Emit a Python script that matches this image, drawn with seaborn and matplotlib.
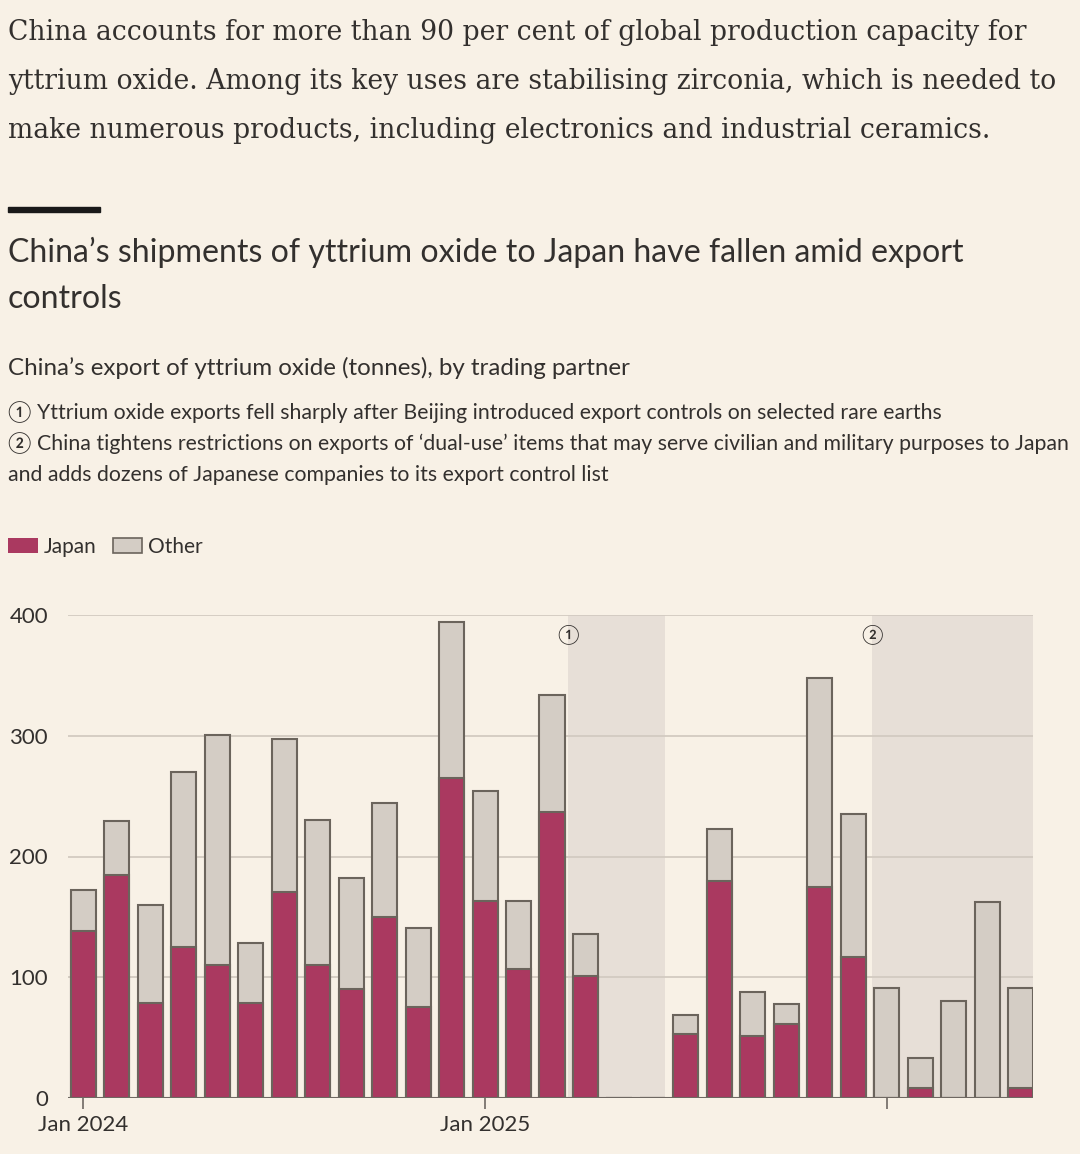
import matplotlib
matplotlib.use('Agg')
import matplotlib.pyplot as plt
import matplotlib.patches as mpatches
import seaborn as sns
import pandas as pd

# monthly data, Jan 2024 - May 2026 (tonnes)
months = pd.date_range('2024-01-01', '2026-05-01', freq='MS').strftime('%b %Y').tolist()
total = [172, 229, 160, 270, 301, 128, 297, 230, 182, 244, 141, 394,
         254, 163, 334, 136, 0, 0, 69, 223, 88, 78, 348, 235,
         91, 33, 80, 162, 91]
japan = [138, 185, 79, 125, 110, 79, 171, 110, 90, 150, 75, 265,
         163, 107, 237, 101, 0, 0, 53, 180, 51, 61, 175, 117,
         0, 8, 0, 0, 8]
tick_labels = ['Jan 2024', 'Jan 2025']
tick_months = ['Jan 2024', 'Jan 2025', 'Jan 2026']
# shaded periods (month index) and their note markers
shade_spans = [(14.48, 17.37), (23.55, 28.4)]
shade_marks = ['\u2460', '\u2461']

BG = '#f8f1e6'
JAPAN = '#aa3960'
OTHER = '#d4cdc5'
EDGE = '#6b645c'
SHADE = '#e7dfd7'
TXT = '#33302e'

sns.set_theme(style='white')
plt.rcParams['font.family'] = ['Lato', 'Noto Sans CJK SC', 'DejaVu Sans']

df = pd.DataFrame({'month': months, 'total': total, 'japan': japan})

W, H = 1080, 1154
fig = plt.figure(figsize=(W / 100, H / 100), dpi=100, facecolor=BG)
ax = fig.add_axes([68 / W, 1 - 1098 / H, (1033 - 68) / W, (1098 - 615) / H])
ax.set_facecolor(BG)

for x0, x1 in shade_spans:
    ax.axvspan(x0, x1, color=SHADE, lw=0, zorder=0)
for y in [100, 200, 300, 400]:
    ax.axhline(y, color='#d3cbc1', lw=1.3, zorder=0.5)

sns.barplot(data=df, x='month', y='total', order=months, color=OTHER,
            edgecolor=EDGE, linewidth=1.5, width=0.75, saturation=1, ax=ax, zorder=2)
sns.barplot(data=df, x='month', y='japan', order=months, color=JAPAN,
            edgecolor=EDGE, linewidth=1.5, width=0.75, saturation=1, ax=ax, zorder=3)

ax.axhline(0, color='#6e6862', lw=1.5, zorder=4)
for (x0, _), m in zip(shade_spans, shade_marks):
    ax.text(x0, 384, m, ha='center', va='center', fontsize=14, color=TXT, zorder=5)

ax.set_xlim(-0.46, 28.37)
ax.set_ylim(0, 400)
ax.set_yticks([0, 100, 200, 300, 400])
ax.set_xticks([months.index(m) for m in tick_months])
ax.set_xticklabels(tick_labels + [''])
ax.tick_params(axis='y', length=0, pad=14.4, labelsize=16, labelcolor=TXT)
ax.tick_params(axis='x', length=8, width=1.2, color='#6e6862', pad=4,
               labelsize=16, labelcolor=TXT, bottom=True)
ax.set_xlabel('')
ax.set_ylabel('')
sns.despine(ax=ax, left=True, bottom=True)


def ftext(x, y, s, **kw):
    fig.text(x / W, 1 - y / H, s, va='baseline', color=TXT, **kw)


para = ['China accounts for more than 90 per cent of global production capacity for',
        'yttrium oxide. Among its key uses are stabilising zirconia, which is needed to',
        'make numerous products, including electronics and industrial ceramics.']
for i, line in enumerate(para):
    ftext(8, 40 + 49 * i, line, fontsize=19.2, family='DejaVu Serif')

fig.add_artist(mpatches.Rectangle((8 / W, 1 - 212 / H), 92 / W, 5 / H,
                                  transform=fig.transFigure, color='#1a1a1a'))

ftext(8, 262, 'China\u2019s shipments of yttrium oxide to Japan have fallen amid export', fontsize=23.1)
ftext(8, 308, 'controls', fontsize=23.1)
ftext(8, 375, 'China\u2019s export of yttrium oxide (tonnes), by trading partner', fontsize=17.4)
ftext(8, 419, '\u2460 Yttrium oxide exports fell sharply after Beijing introduced export controls on selected rare earths', fontsize=15.3)
ftext(8, 450, '\u2461 China tightens restrictions on exports of \u2018dual-use\u2019 items that may serve civilian and military purposes to Japan', fontsize=15.3)
ftext(8, 481, 'and adds dozens of Japanese companies to its export control list', fontsize=15.3)

fig.add_artist(mpatches.Rectangle((8 / W, 1 - 553 / H), 30 / W, 15 / H,
                                  transform=fig.transFigure, facecolor=JAPAN, edgecolor='none'))
fig.add_artist(mpatches.Rectangle((113 / W, 1 - 553 / H), 29 / W, 15 / H,
                                  transform=fig.transFigure, facecolor=OTHER, edgecolor=EDGE, lw=1.2))
ftext(44, 553, 'Japan', fontsize=15)
ftext(148, 553, 'Other', fontsize=15)

fig.savefig('out.png', dpi=100, facecolor=BG)
